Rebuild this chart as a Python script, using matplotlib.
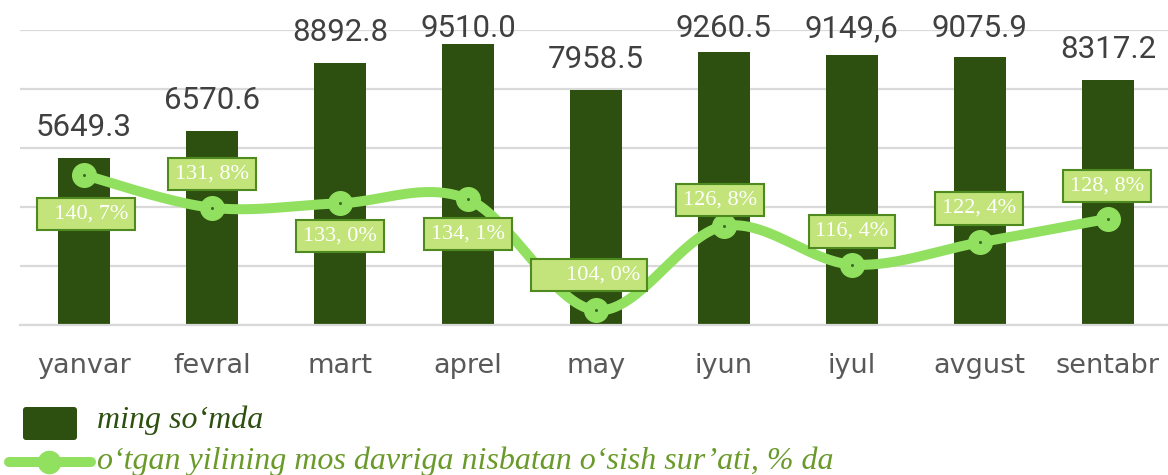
import numpy as np
import matplotlib
matplotlib.use("Agg")
import matplotlib.pyplot as plt
from matplotlib.patches import FancyBboxPatch
from matplotlib.lines import Line2D
from matplotlib.transforms import IdentityTransform

# ---------------- data ----------------
months = ["yanvar", "fevral", "mart", "aprel", "may", "iyun", "iyul", "avgust", "sentabr"]
amounts = [5649.3, 6570.6, 8892.8, 9510.0, 7958.5, 9260.5, 9149.6, 9075.9, 8317.2]
amount_labels = ["5649.3", "6570.6", "8892.8", "9510.0", "7958.5", "9260.5", "9149,6", "9075.9", "8317.2"]
growth = [140.7, 131.8, 133.0, 134.1, 104.0, 126.8, 116.4, 122.4, 128.8]
growth_labels = ["140, 7%", "131, 8%", "133, 0%", "134, 1%", "104, 0%", "126, 8%", "116, 4%", "122, 4%", "128, 8%"]
legend_labels = ["ming so\u2018mda", "o\u2018tgan yilining mos davriga nisbatan o\u2018sish sur\u2019ati, % da"]

# ---------------- style ----------------
W, H = 1168, 475
BAR = "#2D5010"
LINE = "#92E060"
BOX_FILL = "#C3E47A"
BOX_EDGE = "#4E8A1F"
GRID = "#D9D9D9"
# label box offsets (pixels) relative to each point, and extra leading spaces
box_off = [(2, -39), (0, 34), (0, -33), (0, -35), (-7, 35), (-4, 26), (0, 33), (-1, 34), (-1, 33)]
lead = [2, 0, 0, 0, 5, 0, 0, 0, 0]


def excel_smooth(x, y, n=40):
    P = np.column_stack([x, y]).astype(float)
    Pe = np.vstack([P[0], P, P[-1]])
    out = []
    t = np.linspace(0, 1, n)[:, None]
    for i in range(len(P) - 1):
        p0, p3 = P[i], P[i + 1]
        c1 = p0 + (Pe[i + 2] - Pe[i]) / 6.0
        c2 = p3 - (Pe[i + 3] - Pe[i + 1]) / 6.0
        seg = (1 - t) ** 3 * p0 + 3 * (1 - t) ** 2 * t * c1 + 3 * (1 - t) * t ** 2 * c2 + t ** 3 * p3
        out.append(seg if i == 0 else seg[1:])
    return np.vstack(out)


fig = plt.figure(figsize=(W / 100, H / 100), dpi=100)
ax = fig.add_axes([20 / W, 150 / H, 1148 / W, 295 / H])
x = np.arange(len(months))

ax.bar(x, amounts, width=0.405, color=BAR, zorder=2)
ax.set_xlim(-0.5, 8.47)
ax.set_ylim(0, 10000)
ax.set_yticks(np.arange(0, 10001, 2000))
ax.yaxis.grid(True, color=GRID, lw=1.6)
ax.set_axisbelow(True)
ax.set_xticks(x, months)
for s in ["top", "left", "right"]:
    ax.spines[s].set_visible(False)
ax.spines["bottom"].set_color(GRID)
ax.spines["bottom"].set_linewidth(1.6)

label_y = np.minimum(np.array(amounts) + 745, 9770)
for xi, ly, lab in zip(x, label_y, amount_labels):
    ax.text(xi, ly, lab, ha="center", va="baseline", fontsize=22.5,
            family="Roboto", color="#404040", clip_on=False)

ax2 = ax.twinx()
ax2.set_ylim(100, 180)
ax2.set_yticks([])
for s in ax2.spines.values():
    s.set_visible(False)

ax.tick_params(axis="y", left=False, right=False, labelleft=False, labelright=False)
ax.tick_params(axis="x", length=0, pad=20, labelsize=19.5, labelcolor="#595959")
ax2.tick_params(axis="y", left=False, right=False, labelleft=False, labelright=False)

curve = excel_smooth(x, growth)
ax2.plot(curve[:, 0], curve[:, 1], color=LINE, lw=7.2, solid_capstyle="round", zorder=3)
ax2.plot(x, growth, "o", color=LINE, ms=17, zorder=4)
ax2.plot(x, growth, "o", color="#3C6A2A", ms=1.2, zorder=5)

for xi, g, lab, off, ld in zip(x, growth, growth_labels, box_off, lead):
    ax2.annotate(" " * ld + lab, (xi, g), xytext=off, textcoords="offset pixels",
                 ha="center", va="center", fontsize=16, family="Liberation Serif",
                 color="white", zorder=6,
                 bbox=dict(boxstyle="square,pad=0.3", fc=BOX_FILL, ec=BOX_EDGE, lw=1.5))

# ---------------- legend ----------------
idt = IdentityTransform()
fig.add_artist(FancyBboxPatch((23, H - 440), 54, 33, boxstyle="round,pad=0,rounding_size=3",
                              fc=BAR, ec="none", transform=idt))
fig.add_artist(Line2D([9, 91], [H - 462, H - 462], color=LINE, lw=7.2,
                      solid_capstyle="round", transform=idt))
fig.add_artist(Line2D([49], [H - 462], marker="o", ms=16, color=LINE, transform=idt))
fig.text(97, H - 428, legend_labels[0], transform=idt, fontsize=23, style="italic",
         family="Liberation Serif", color=BAR, va="baseline")
fig.text(97, H - 469, legend_labels[1], transform=idt, fontsize=23, style="italic",
         family="Liberation Serif", color="#6A9A2A", va="baseline")

fig.savefig("out.png", dpi=100)
